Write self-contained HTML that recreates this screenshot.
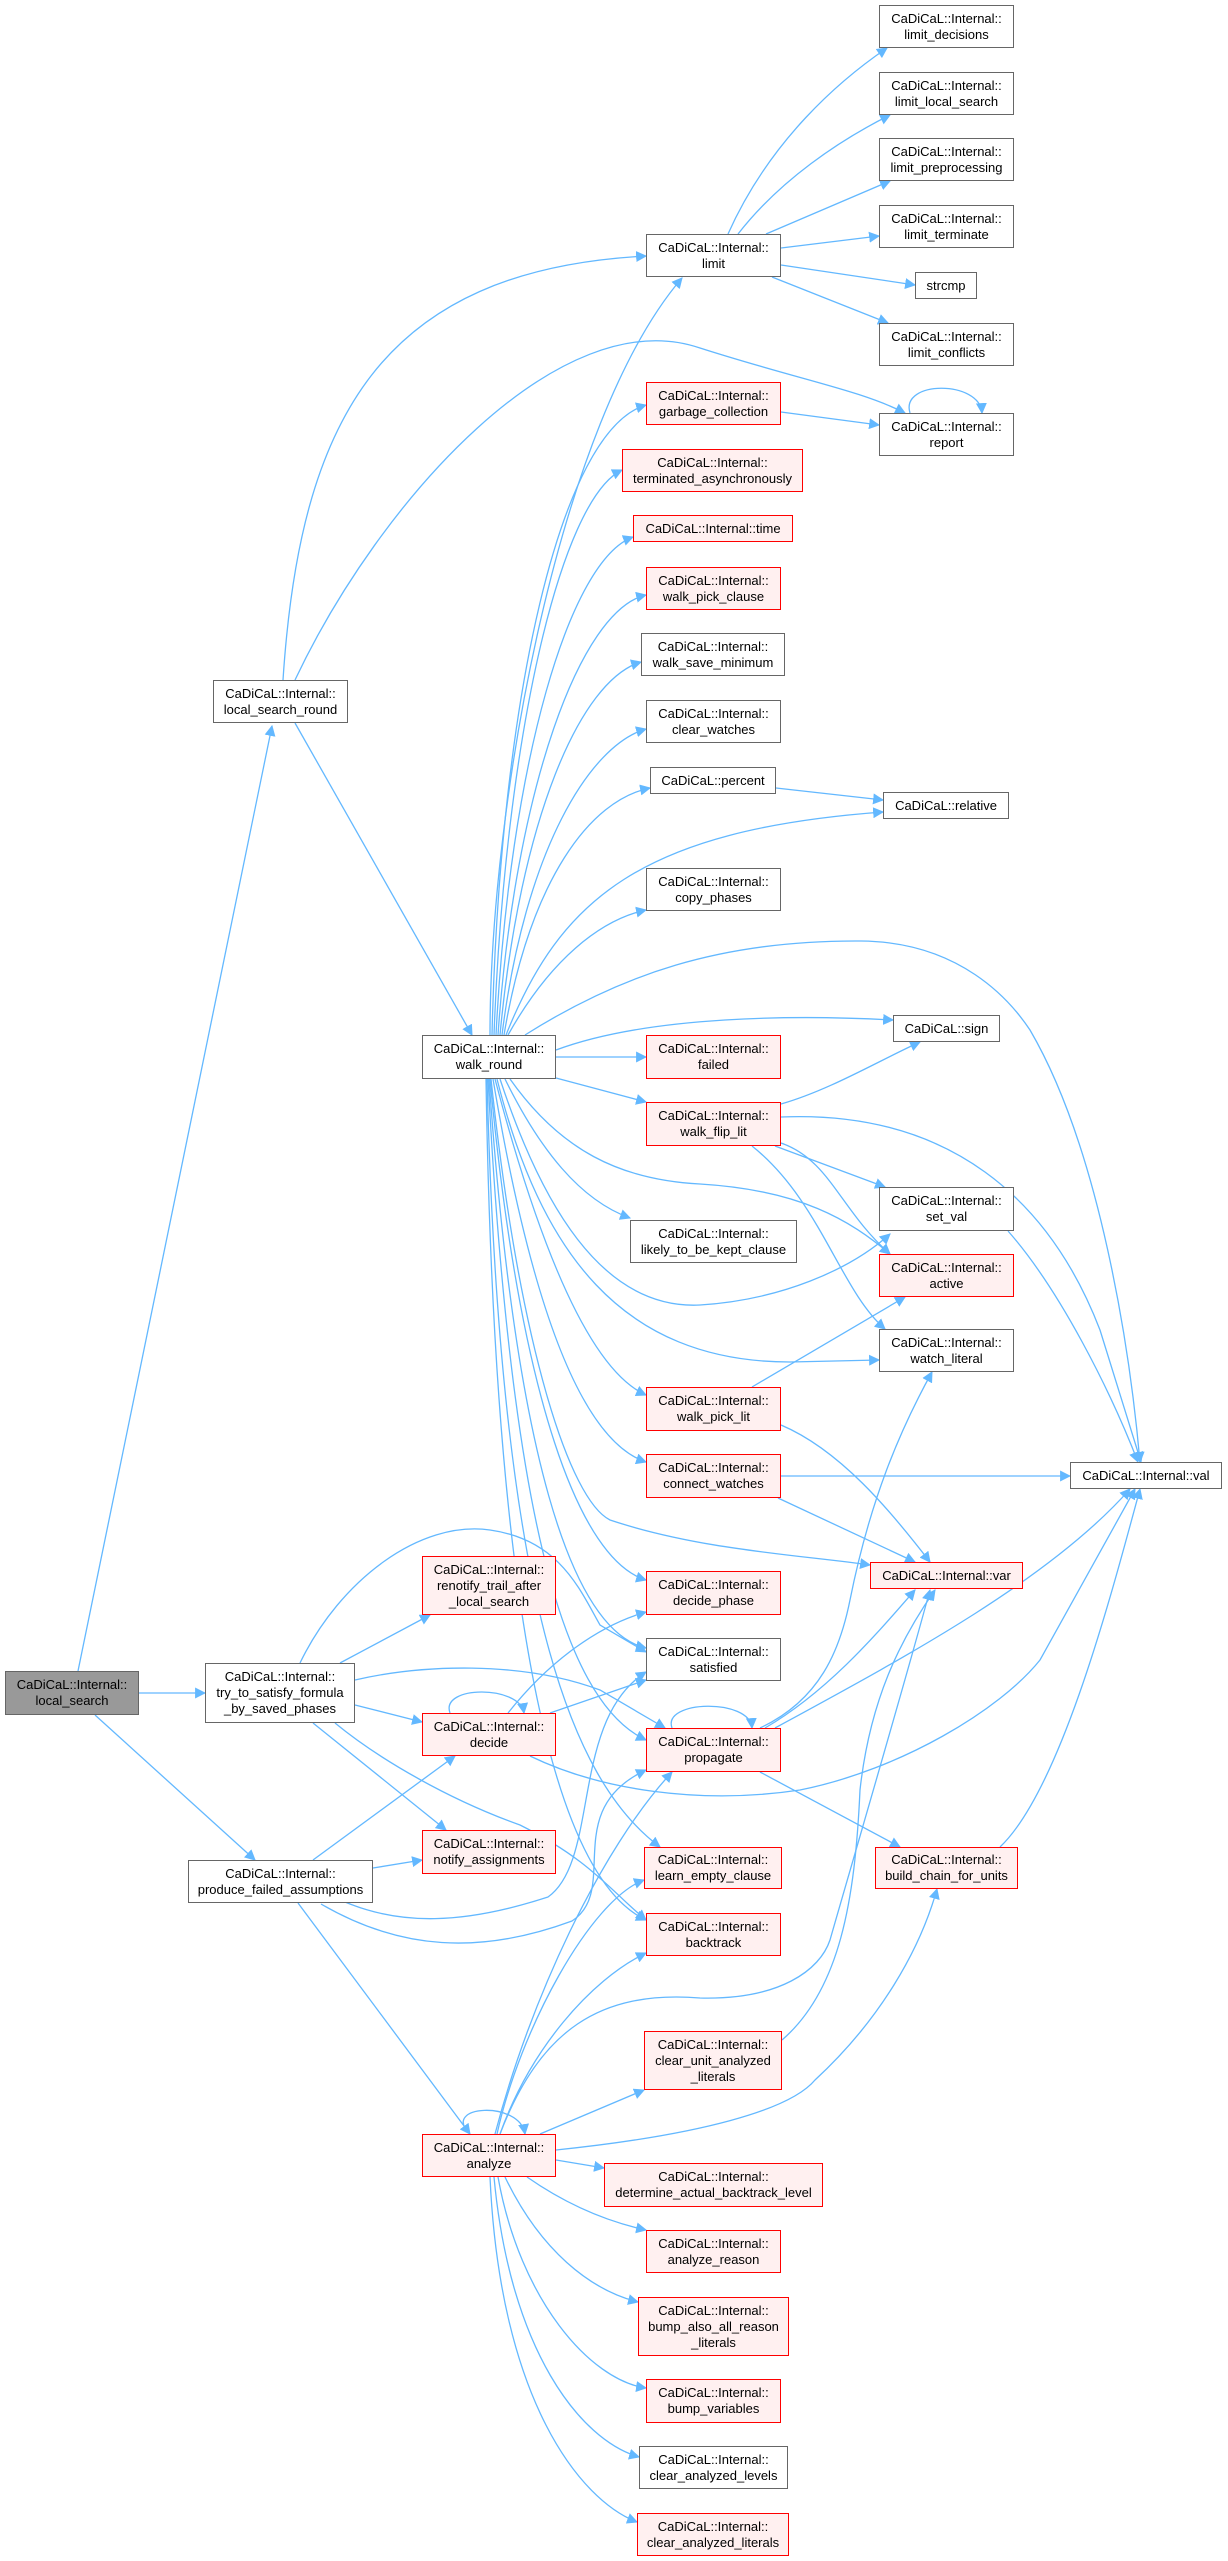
<!DOCTYPE html>
<html><head><meta charset="utf-8"><style>
body{margin:0;background:#fff;}
#c{position:relative;width:1228px;height:2561px;overflow:hidden;background:#fff;font-family:"Liberation Sans",Arial,sans-serif;font-size:13px;color:#000;}
.n{position:absolute;box-sizing:border-box;border:1.5px solid #666;background:#fff;display:flex;align-items:center;justify-content:center;text-align:center;line-height:16px;white-space:nowrap;}
.r{border-color:#f00;background:#fff0f0;}
.g{background:#999;border-color:#666;}
svg{position:absolute;left:0;top:0;}
</style></head><body><div id="c">
<svg width="1228" height="2561" viewBox="0 0 1228 2561">
<defs><marker id="a" viewBox="0 0 10 10" refX="9" refY="5" markerWidth="11" markerHeight="11" markerUnits="userSpaceOnUse" orient="auto"><path d="M0,0 L10,5 L0,10 z" fill="#63b8ff"/></marker></defs>
<g fill="none" stroke="#63b8ff" stroke-width="1.3" marker-end="url(#a)">
<path d="M78,1671 L272,726"/>
<path d="M139,1693 L205,1693"/>
<path d="M95,1715 L255,1860"/>
<path d="M283,680 C300,420 380,270 646,256"/>
<path d="M295,680 C380,500 560,300 700,348 C800,380 860,390 905,413"/>
<path d="M295,723 L472,1035"/>
<path d="M490,1035 C490,800 560,420 682,278"/>
<path d="M492,1035 C500,700 560,430 646,405"/>
<path d="M494,1035 C505,740 560,500 622,470"/>
<path d="M496,1035 C510,760 570,560 633,537"/>
<path d="M498,1035 C515,790 580,610 646,595"/>
<path d="M500,1035 C520,820 580,680 641,662"/>
<path d="M502,1035 C525,850 590,745 646,729"/>
<path d="M504,1035 C530,880 590,800 650,788"/>
<path d="M506,1035 C560,900 640,830 883,812"/>
<path d="M508,1035 C550,960 600,920 646,910"/>
<path d="M525,1035 C620,975 720,940 861,941 C960,942 1010,1000 1030,1030 C1100,1150 1130,1350 1140,1462"/>
<path d="M556,1050 C650,1015 800,1015 893,1020"/>
<path d="M556,1057 L646,1057"/>
<path d="M556,1078 L646,1102"/>
<path d="M505,1079 C540,1150 580,1200 630,1218"/>
<path d="M510,1079 C560,1150 620,1180 700,1184 C800,1190 850,1220 890,1254"/>
<path d="M500,1079 C540,1200 600,1310 700,1305 C780,1300 850,1270 890,1234"/>
<path d="M497,1079 C540,1250 620,1362 790,1362 L879,1360"/>
<path d="M495,1079 C540,1250 590,1370 646,1395"/>
<path d="M493,1079 C530,1300 580,1440 646,1462"/>
<path d="M491,1079 C520,1350 570,1500 610,1520 C700,1550 800,1555 870,1565"/>
<path d="M490,1079 C520,1400 580,1560 646,1580"/>
<path d="M489,1079 C515,1450 570,1630 646,1648"/>
<path d="M488,1079 C510,1500 560,1700 646,1740"/>
<path d="M487,1079 C500,1600 570,1780 660,1847"/>
<path d="M486,1079 C495,1650 560,1880 646,1920"/>
<path d="M728,234 C770,140 840,80 887,48"/>
<path d="M738,234 C780,180 840,140 890,115"/>
<path d="M766,234 L890,181"/>
<path d="M781,248 L879,236"/>
<path d="M781,265 L915,285"/>
<path d="M772,277 L888,323"/>
<path d="M781,412 L879,425"/>
<path d="M910,413 C900,380 980,380 982,413"/>
<path d="M776,788 L883,800"/>
<path d="M781,1104 C830,1090 880,1060 920,1042"/>
<path d="M781,1117 C950,1110 1050,1200 1100,1330 L1141,1462"/>
<path d="M775,1146 L885,1187"/>
<path d="M781,1143 C830,1160 840,1210 890,1254"/>
<path d="M752,1146 C820,1200 840,1290 885,1329"/>
<path d="M1008,1231 C1060,1290 1110,1390 1138,1462"/>
<path d="M752,1387 L905,1297"/>
<path d="M781,1425 C840,1450 890,1510 930,1562"/>
<path d="M781,1476 L1070,1476"/>
<path d="M778,1498 L915,1562"/>
<path d="M1000,1847 C1060,1790 1110,1600 1140,1489"/>
<path d="M782,2040 C840,1990 855,1900 860,1790 C870,1700 900,1640 935,1590"/>
<path d="M500,2134 C540,2030 600,1990 700,1998 C780,2000 820,1970 830,1940 C850,1870 900,1700 930,1590"/>
<path d="M760,1728 C820,1700 840,1650 850,1600 C870,1500 900,1430 932,1372"/>
<path d="M765,1728 C830,1690 880,1630 915,1590"/>
<path d="M775,1728 C900,1660 1050,1580 1130,1489"/>
<path d="M760,1772 L900,1847"/>
<path d="M672,1728 C662,1700 750,1698 752,1728"/>
<path d="M450,1713 C440,1685 520,1685 524,1713"/>
<path d="M470,2134 C440,2105 520,2100 525,2134"/>
<path d="M508,1713 C550,1660 600,1625 646,1612"/>
<path d="M550,1713 L646,1680"/>
<path d="M530,1756 C600,1790 700,1805 800,1790 C900,1770 1000,1710 1040,1660 L1135,1489"/>
<path d="M340,1663 L430,1615"/>
<path d="M300,1663 C340,1580 420,1520 490,1530 C560,1540 580,1590 600,1625 L646,1652"/>
<path d="M355,1680 C420,1665 520,1660 600,1690 L665,1728"/>
<path d="M355,1705 L422,1722"/>
<path d="M313,1723 L446,1830"/>
<path d="M335,1723 C380,1760 450,1800 520,1825 C590,1860 610,1890 646,1920"/>
<path d="M313,1860 L455,1756"/>
<path d="M373,1868 L422,1860"/>
<path d="M298,1903 L470,2134"/>
<path d="M345,1902 C400,1925 462,1925 548,1897 C600,1860 570,1720 646,1672"/>
<path d="M321,1904 C400,1950 480,1955 572,1921 C620,1890 560,1810 646,1770"/>
<path d="M495,2134 C530,2000 600,1850 672,1772"/>
<path d="M500,2134 C530,2050 590,1980 646,1953"/>
<path d="M497,2134 C520,2030 590,1900 644,1880"/>
<path d="M540,2134 L644,2090"/>
<path d="M556,2150 C700,2135 790,2110 815,2080 C880,2020 920,1950 937,1889"/>
<path d="M556,2160 L604,2168"/>
<path d="M527,2177 C560,2200 600,2220 646,2230"/>
<path d="M505,2177 C540,2250 590,2290 638,2302"/>
<path d="M498,2177 C520,2300 590,2380 646,2388"/>
<path d="M494,2177 C510,2350 580,2440 639,2457"/>
<path d="M490,2177 C500,2400 580,2500 637,2522"/>
</g></svg>
<div class="n" style="left:879px;top:5px;width:135px;height:43px">CaDiCaL::Internal::<br>limit_decisions</div>
<div class="n" style="left:879px;top:72px;width:135px;height:43px">CaDiCaL::Internal::<br>limit_local_search</div>
<div class="n" style="left:879px;top:138px;width:135px;height:43px">CaDiCaL::Internal::<br>limit_preprocessing</div>
<div class="n" style="left:879px;top:205px;width:135px;height:43px">CaDiCaL::Internal::<br>limit_terminate</div>
<div class="n" style="left:915px;top:272px;width:62px;height:27px">strcmp</div>
<div class="n" style="left:879px;top:323px;width:135px;height:43px">CaDiCaL::Internal::<br>limit_conflicts</div>
<div class="n" style="left:879px;top:413px;width:135px;height:43px">CaDiCaL::Internal::<br>report</div>
<div class="n" style="left:646px;top:234px;width:135px;height:43px">CaDiCaL::Internal::<br>limit</div>
<div class="n r" style="left:646px;top:382px;width:135px;height:43px">CaDiCaL::Internal::<br>garbage_collection</div>
<div class="n r" style="left:622px;top:449px;width:181px;height:43px">CaDiCaL::Internal::<br>terminated_asynchronously</div>
<div class="n r" style="left:633px;top:515px;width:160px;height:27px">CaDiCaL::Internal::time</div>
<div class="n r" style="left:646px;top:567px;width:135px;height:43px">CaDiCaL::Internal::<br>walk_pick_clause</div>
<div class="n" style="left:641px;top:633px;width:144px;height:43px">CaDiCaL::Internal::<br>walk_save_minimum</div>
<div class="n" style="left:646px;top:700px;width:135px;height:43px">CaDiCaL::Internal::<br>clear_watches</div>
<div class="n" style="left:650px;top:767px;width:126px;height:27px">CaDiCaL::percent</div>
<div class="n" style="left:883px;top:792px;width:126px;height:27px">CaDiCaL::relative</div>
<div class="n" style="left:646px;top:868px;width:135px;height:43px">CaDiCaL::Internal::<br>copy_phases</div>
<div class="n" style="left:213px;top:680px;width:135px;height:43px">CaDiCaL::Internal::<br>local_search_round</div>
<div class="n" style="left:422px;top:1035px;width:134px;height:44px">CaDiCaL::Internal::<br>walk_round</div>
<div class="n" style="left:893px;top:1015px;width:107px;height:27px">CaDiCaL::sign</div>
<div class="n r" style="left:646px;top:1035px;width:135px;height:44px">CaDiCaL::Internal::<br>failed</div>
<div class="n r" style="left:646px;top:1102px;width:135px;height:44px">CaDiCaL::Internal::<br>walk_flip_lit</div>
<div class="n" style="left:879px;top:1187px;width:135px;height:44px">CaDiCaL::Internal::<br>set_val</div>
<div class="n" style="left:630px;top:1220px;width:167px;height:43px">CaDiCaL::Internal::<br>likely_to_be_kept_clause</div>
<div class="n r" style="left:879px;top:1254px;width:135px;height:43px">CaDiCaL::Internal::<br>active</div>
<div class="n" style="left:879px;top:1329px;width:135px;height:43px">CaDiCaL::Internal::<br>watch_literal</div>
<div class="n r" style="left:646px;top:1387px;width:135px;height:44px">CaDiCaL::Internal::<br>walk_pick_lit</div>
<div class="n r" style="left:646px;top:1454px;width:135px;height:44px">CaDiCaL::Internal::<br>connect_watches</div>
<div class="n" style="left:1070px;top:1462px;width:152px;height:27px">CaDiCaL::Internal::val</div>
<div class="n r" style="left:870px;top:1562px;width:153px;height:27px">CaDiCaL::Internal::var</div>
<div class="n r" style="left:422px;top:1556px;width:134px;height:59px">CaDiCaL::Internal::<br>renotify_trail_after<br>_local_search</div>
<div class="n r" style="left:646px;top:1571px;width:135px;height:44px">CaDiCaL::Internal::<br>decide_phase</div>
<div class="n" style="left:646px;top:1638px;width:135px;height:43px">CaDiCaL::Internal::<br>satisfied</div>
<div class="n g" style="left:5px;top:1671px;width:134px;height:44px">CaDiCaL::Internal::<br>local_search</div>
<div class="n" style="left:205px;top:1663px;width:150px;height:60px">CaDiCaL::Internal::<br>try_to_satisfy_formula<br>_by_saved_phases</div>
<div class="n r" style="left:422px;top:1713px;width:134px;height:43px">CaDiCaL::Internal::<br>decide</div>
<div class="n r" style="left:646px;top:1728px;width:135px;height:44px">CaDiCaL::Internal::<br>propagate</div>
<div class="n r" style="left:422px;top:1830px;width:134px;height:44px">CaDiCaL::Internal::<br>notify_assignments</div>
<div class="n" style="left:188px;top:1860px;width:185px;height:43px">CaDiCaL::Internal::<br>produce_failed_assumptions</div>
<div class="n r" style="left:644px;top:1847px;width:138px;height:42px">CaDiCaL::Internal::<br>learn_empty_clause</div>
<div class="n r" style="left:875px;top:1847px;width:143px;height:42px">CaDiCaL::Internal::<br>build_chain_for_units</div>
<div class="n r" style="left:646px;top:1913px;width:135px;height:43px">CaDiCaL::Internal::<br>backtrack</div>
<div class="n r" style="left:644px;top:2031px;width:138px;height:59px">CaDiCaL::Internal::<br>clear_unit_analyzed<br>_literals</div>
<div class="n r" style="left:422px;top:2134px;width:134px;height:43px">CaDiCaL::Internal::<br>analyze</div>
<div class="n r" style="left:604px;top:2163px;width:219px;height:44px">CaDiCaL::Internal::<br>determine_actual_backtrack_level</div>
<div class="n r" style="left:646px;top:2230px;width:135px;height:43px">CaDiCaL::Internal::<br>analyze_reason</div>
<div class="n r" style="left:638px;top:2297px;width:151px;height:59px">CaDiCaL::Internal::<br>bump_also_all_reason<br>_literals</div>
<div class="n r" style="left:646px;top:2379px;width:135px;height:44px">CaDiCaL::Internal::<br>bump_variables</div>
<div class="n" style="left:639px;top:2446px;width:149px;height:43px">CaDiCaL::Internal::<br>clear_analyzed_levels</div>
<div class="n r" style="left:637px;top:2513px;width:152px;height:43px">CaDiCaL::Internal::<br>clear_analyzed_literals</div>
</div></body></html>
